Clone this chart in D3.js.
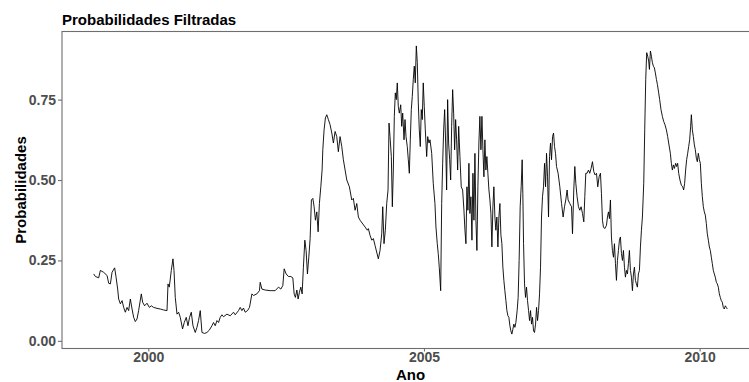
<!DOCTYPE html>
<html>
<head>
<meta charset="utf-8">
<script src="https://cdn.jsdelivr.net/npm/d3@7"></script>
<style>
  body { margin: 0; background: #fff; }
  text { font-family: "Liberation Sans", Arial, sans-serif; }
</style>
</head>
<body>
<svg id="chart" width="749" height="382"></svg>
<script>
// Filtered regime probabilities, decimal year vs probability
const years = [
  1999.009, 1999.040, 1999.100, 1999.130, 1999.190, 1999.252, 1999.281, 1999.312, 1999.342, 1999.389,
  1999.415, 1999.444, 1999.462, 1999.493, 1999.524, 1999.553, 1999.583, 1999.614, 1999.643, 1999.674,
  1999.705, 1999.734, 1999.764, 1999.795, 1999.824, 1999.873, 1999.897, 1999.933, 1999.976, 2000.018,
  2000.054, 2000.096, 2000.158, 2000.217, 2000.277, 2000.339, 2000.357, 2000.380, 2000.417, 2000.447,
  2000.466, 2000.489, 2000.520, 2000.549, 2000.580, 2000.621, 2000.652, 2000.688, 2000.719, 2000.748,
  2000.779, 2000.810, 2000.851, 2000.882, 2000.911, 2000.942, 2000.973, 2001.020, 2001.063, 2001.105,
  2001.154, 2001.183, 2001.214, 2001.245, 2001.274, 2001.304, 2001.335, 2001.364, 2001.426, 2001.486,
  2001.545, 2001.576, 2001.636, 2001.667, 2001.697, 2001.726, 2001.757, 2001.799, 2001.835, 2001.879,
  2001.908, 2001.969, 2002.016, 2002.029, 2002.060, 2002.120, 2002.210, 2002.301, 2002.361, 2002.404,
  2002.440, 2002.464, 2002.500, 2002.542, 2002.585, 2002.621, 2002.645, 2002.668, 2002.694, 2002.717,
  2002.741, 2002.766, 2002.790, 2002.813, 2002.839, 2002.862, 2002.886, 2002.911, 2002.935, 2002.958,
  2002.984, 2003.007, 2003.031, 2003.056, 2003.080, 2003.103, 2003.129, 2003.152, 2003.165, 2003.188,
  2003.212, 2003.237, 2003.266, 2003.297, 2003.328, 2003.357, 2003.388, 2003.418, 2003.447, 2003.478,
  2003.509, 2003.538, 2003.600, 2003.647, 2003.690, 2003.719, 2003.750, 2003.781, 2003.810, 2003.841,
  2003.931, 2003.973, 2003.991, 2004.022, 2004.053, 2004.082, 2004.112, 2004.172, 2004.203, 2004.234,
  2004.252, 2004.275, 2004.299, 2004.324, 2004.348, 2004.366, 2004.384, 2004.408, 2004.426, 2004.444,
  2004.462, 2004.480, 2004.498, 2004.516, 2004.534, 2004.553, 2004.578, 2004.596, 2004.614, 2004.638,
  2004.656, 2004.674, 2004.697, 2004.716, 2004.734, 2004.752, 2004.770, 2004.788, 2004.806, 2004.824,
  2004.842, 2004.861, 2004.879, 2004.897, 2004.915, 2004.933, 2004.951, 2004.969, 2004.987, 2005.005,
  2005.024, 2005.049, 2005.067, 2005.091, 2005.109, 2005.140, 2005.168, 2005.199, 2005.217, 2005.241,
  2005.259, 2005.277, 2005.303, 2005.321, 2005.339, 2005.357, 2005.375, 2005.393, 2005.411, 2005.429,
  2005.447, 2005.466, 2005.484, 2005.502, 2005.520, 2005.538, 2005.556, 2005.574, 2005.592, 2005.611,
  2005.629, 2005.652, 2005.676, 2005.701, 2005.725, 2005.743, 2005.761, 2005.779, 2005.797, 2005.815,
  2005.833, 2005.851, 2005.870, 2005.888, 2005.906, 2005.924, 2005.942, 2005.960, 2005.978, 2005.996,
  2006.014, 2006.033, 2006.051, 2006.069, 2006.087, 2006.105, 2006.123, 2006.141, 2006.159, 2006.178,
  2006.196, 2006.214, 2006.232, 2006.250, 2006.268, 2006.286, 2006.304, 2006.322, 2006.341, 2006.359,
  2006.377, 2006.395, 2006.413, 2006.431, 2006.449, 2006.467, 2006.486, 2006.504, 2006.522, 2006.540,
  2006.558, 2006.576, 2006.594, 2006.612, 2006.630, 2006.649, 2006.667, 2006.690, 2006.708, 2006.726,
  2006.745, 2006.763, 2006.781, 2006.793, 2006.806, 2006.824, 2006.842, 2006.860, 2006.878, 2006.897,
  2006.915, 2006.933, 2006.951, 2006.969, 2006.987, 2007.005, 2007.024, 2007.042, 2007.060, 2007.078,
  2007.096, 2007.114, 2007.132, 2007.150, 2007.168, 2007.187, 2007.205, 2007.223, 2007.241, 2007.259,
  2007.277, 2007.295, 2007.313, 2007.332, 2007.350, 2007.368, 2007.386, 2007.404, 2007.433, 2007.464,
  2007.495, 2007.524, 2007.549, 2007.572, 2007.596, 2007.614, 2007.645, 2007.676, 2007.694, 2007.717,
  2007.736, 2007.754, 2007.777, 2007.802, 2007.826, 2007.850, 2007.875, 2007.899, 2007.917, 2007.935,
  2007.958, 2007.984, 2008.007, 2008.031, 2008.056, 2008.080, 2008.103, 2008.129, 2008.152, 2008.176,
  2008.201, 2008.219, 2008.237, 2008.255, 2008.279, 2008.310, 2008.328, 2008.346, 2008.364, 2008.382,
  2008.400, 2008.418, 2008.437, 2008.455, 2008.473, 2008.491, 2008.509, 2008.527, 2008.545, 2008.563,
  2008.582, 2008.600, 2008.618, 2008.636, 2008.654, 2008.672, 2008.690, 2008.708, 2008.726, 2008.745,
  2008.763, 2008.781, 2008.799, 2008.817, 2008.835, 2008.853, 2008.871, 2008.889, 2008.908, 2008.926,
  2008.944, 2008.962, 2008.986, 2009.004, 2009.022, 2009.040, 2009.058, 2009.076, 2009.089, 2009.107,
  2009.125, 2009.143, 2009.161, 2009.179, 2009.197, 2009.216, 2009.234, 2009.257, 2009.275, 2009.299,
  2009.324, 2009.348, 2009.371, 2009.397, 2009.420, 2009.444, 2009.469, 2009.487, 2009.505, 2009.524,
  2009.542, 2009.565, 2009.583, 2009.601, 2009.620, 2009.643, 2009.668, 2009.692, 2009.710, 2009.728,
  2009.746, 2009.764, 2009.783, 2009.801, 2009.819, 2009.837, 2009.850, 2009.868, 2009.886, 2009.904,
  2009.922, 2009.940, 2009.958, 2009.976, 2009.995, 2010.013, 2010.031, 2010.049, 2010.067, 2010.085,
  2010.103, 2010.121, 2010.139, 2010.158, 2010.176, 2010.194, 2010.212, 2010.230, 2010.248, 2010.266,
  2010.284, 2010.303, 2010.321, 2010.339, 2010.357, 2010.375, 2010.393, 2010.411, 2010.429, 2010.447,
  2010.466, 2010.484, 2010.502
];

const probs = [
  0.208, 0.200, 0.196, 0.219, 0.213, 0.203, 0.179, 0.177, 0.213, 0.227,
  0.198, 0.161, 0.130, 0.115, 0.125, 0.104, 0.089, 0.104, 0.094, 0.130,
  0.099, 0.073, 0.060, 0.068, 0.094, 0.146, 0.120, 0.109, 0.117, 0.104,
  0.109, 0.104, 0.101, 0.099, 0.096, 0.094, 0.177, 0.167, 0.219, 0.255,
  0.219, 0.135, 0.083, 0.089, 0.073, 0.037, 0.057, 0.073, 0.047, 0.073,
  0.089, 0.047, 0.026, 0.042, 0.063, 0.094, 0.026, 0.023, 0.026, 0.033,
  0.047, 0.057, 0.047, 0.063, 0.057, 0.073, 0.081, 0.075, 0.083, 0.078,
  0.089, 0.081, 0.094, 0.104, 0.094, 0.102, 0.089, 0.094, 0.104, 0.146,
  0.141, 0.146, 0.156, 0.182, 0.161, 0.158, 0.156, 0.156, 0.167, 0.161,
  0.172, 0.224, 0.208, 0.200, 0.200, 0.196, 0.146, 0.135, 0.158, 0.130,
  0.151, 0.167, 0.146, 0.229, 0.313, 0.281, 0.208, 0.260, 0.318, 0.438,
  0.443, 0.417, 0.375, 0.401, 0.339, 0.427, 0.479, 0.531, 0.594, 0.656,
  0.693, 0.703, 0.688, 0.672, 0.646, 0.615, 0.651, 0.635, 0.588, 0.635,
  0.604, 0.563, 0.500, 0.479, 0.438, 0.443, 0.406, 0.427, 0.385, 0.375,
  0.354, 0.344, 0.349, 0.328, 0.313, 0.318, 0.297, 0.255, 0.281, 0.333,
  0.417, 0.302, 0.344, 0.427, 0.469, 0.677, 0.635, 0.573, 0.417, 0.531,
  0.698, 0.771, 0.750, 0.802, 0.729, 0.708, 0.734, 0.667, 0.708, 0.625,
  0.688, 0.635, 0.604, 0.563, 0.521, 0.625, 0.719, 0.760, 0.813, 0.854,
  0.802, 0.917, 0.865, 0.740, 0.656, 0.604, 0.719, 0.688, 0.802, 0.729,
  0.656, 0.573, 0.635, 0.615, 0.625, 0.583, 0.490, 0.427, 0.354, 0.302,
  0.271, 0.229, 0.156, 0.427, 0.552, 0.656, 0.719, 0.615, 0.469, 0.750,
  0.615, 0.563, 0.500, 0.667, 0.781, 0.708, 0.594, 0.688, 0.625, 0.531,
  0.667, 0.573, 0.479, 0.469, 0.406, 0.344, 0.302, 0.479, 0.406, 0.552,
  0.396, 0.448, 0.313, 0.521, 0.375, 0.583, 0.375, 0.281, 0.479, 0.615,
  0.698, 0.594, 0.698, 0.594, 0.510, 0.625, 0.531, 0.573, 0.521, 0.469,
  0.438, 0.396, 0.292, 0.417, 0.479, 0.385, 0.344, 0.385, 0.292, 0.385,
  0.427, 0.330, 0.302, 0.229, 0.188, 0.156, 0.125, 0.094, 0.078, 0.073,
  0.047, 0.031, 0.021, 0.036, 0.052, 0.042, 0.057, 0.094, 0.135, 0.250,
  0.417, 0.479, 0.563, 0.458, 0.302, 0.177, 0.135, 0.167, 0.125, 0.094,
  0.063, 0.094, 0.052, 0.073, 0.031, 0.026, 0.052, 0.104, 0.063, 0.094,
  0.146, 0.229, 0.385, 0.448, 0.479, 0.552, 0.479, 0.583, 0.510, 0.385,
  0.573, 0.615, 0.563, 0.635, 0.646, 0.604, 0.583, 0.542, 0.521, 0.479,
  0.427, 0.385, 0.417, 0.438, 0.469, 0.438, 0.427, 0.417, 0.333, 0.469,
  0.542, 0.490, 0.448, 0.417, 0.406, 0.417, 0.396, 0.370, 0.448, 0.521,
  0.521, 0.531, 0.521, 0.536, 0.557, 0.526, 0.516, 0.521, 0.479, 0.510,
  0.521, 0.458, 0.375, 0.354, 0.349, 0.359, 0.385, 0.401, 0.380, 0.438,
  0.323, 0.281, 0.260, 0.302, 0.240, 0.188, 0.250, 0.281, 0.313, 0.323,
  0.271, 0.250, 0.281, 0.229, 0.198, 0.219, 0.208, 0.240, 0.281, 0.219,
  0.198, 0.156, 0.208, 0.229, 0.188, 0.177, 0.167, 0.208, 0.219, 0.292,
  0.344, 0.385, 0.490, 0.656, 0.813, 0.896, 0.885, 0.870, 0.844, 0.901,
  0.885, 0.865, 0.854, 0.849, 0.833, 0.813, 0.797, 0.771, 0.750, 0.719,
  0.698, 0.682, 0.672, 0.656, 0.635, 0.609, 0.583, 0.552, 0.531, 0.547,
  0.536, 0.552, 0.542, 0.552, 0.521, 0.500, 0.484, 0.479, 0.469, 0.490,
  0.531, 0.563, 0.583, 0.604, 0.625, 0.667, 0.703, 0.656, 0.635, 0.609,
  0.594, 0.568, 0.557, 0.583, 0.563, 0.552, 0.490, 0.448, 0.417, 0.401,
  0.391, 0.365, 0.333, 0.313, 0.292, 0.281, 0.260, 0.240, 0.219, 0.208,
  0.198, 0.182, 0.177, 0.167, 0.146, 0.135, 0.125, 0.120, 0.104, 0.099,
  0.109, 0.104, 0.099
];

const yTicks = [0, 0.25, 0.5, 0.75];
const xTicks = [2000, 2005, 2010];
const titleText = "Probabilidades Filtradas";
const xTitle = "Ano";
const yTitle = "Probabilidades";

const series = years.map((t, i) => ({ t, p: probs[i] }));

const svg = d3.select("#chart");
const panel = { left: 62, right: 759, top: 31.5, bottom: 348.5 };
const frameColor = "#6e6e6e";
const tickColor = "#4d4d4d";

// 5% expansion on both scales
const xExt = d3.extent(years), xPad = (xExt[1] - xExt[0]) * 0.05;
const yExt = d3.extent(probs), yPad = (yExt[1] - yExt[0]) * 0.05;

const x = d3.scaleLinear()
  .domain([xExt[0] - xPad, xExt[1] + xPad])
  .range([panel.left, panel.right]);
const y = d3.scaleLinear()
  .domain([yExt[0] - yPad, yExt[1] + yPad])
  .range([panel.bottom, panel.top]);

// data line
svg.append("path")
  .datum(series)
  .attr("fill", "none")
  .attr("stroke", "#000")
  .attr("stroke-width", 0.9)
  .attr("stroke-linejoin", "round")
  .attr("d", d3.line().x(d => x(d.t)).y(d => y(d.p)));

// panel frame
svg.append("rect")
  .attr("x", panel.left).attr("y", panel.top)
  .attr("width", panel.right - panel.left)
  .attr("height", panel.bottom - panel.top)
  .attr("fill", "none")
  .attr("stroke", frameColor)
  .attr("stroke-width", 1.1);

// axes
const yAxis = svg.append("g")
  .attr("transform", `translate(${panel.left},0)`)
  .call(d3.axisLeft(y).tickValues(yTicks).tickFormat(d3.format(".2f")).tickSize(4).tickSizeOuter(0).tickPadding(2));
const xAxis = svg.append("g")
  .attr("transform", `translate(0,${panel.bottom})`)
  .call(d3.axisBottom(x).tickValues(xTicks).tickFormat(d3.format("d")).tickSize(3).tickSizeOuter(0).tickPadding(1));

[yAxis, xAxis].forEach(g => {
  g.select(".domain").remove();
  g.selectAll(".tick line").attr("stroke", frameColor).attr("stroke-width", 1.1);
  g.selectAll(".tick text")
    .attr("fill", tickColor)
    .style("font-size", "14px")
    .style("font-weight", "bold")
    .style("font-family", "'Liberation Sans', Arial, sans-serif");
});

// titles
svg.append("text")
  .attr("x", panel.left).attr("y", 25)
  .style("font-size", "15px").style("font-weight", "bold")
  .attr("fill", "#000")
  .text(titleText);

svg.append("text")
  .attr("x", (panel.left + panel.right) / 2).attr("y", 380)
  .attr("text-anchor", "middle")
  .style("font-size", "15px").style("font-weight", "bold")
  .attr("fill", "#000")
  .text(xTitle);

svg.append("text")
  .attr("transform", `translate(26,${(panel.top + panel.bottom) / 2}) rotate(-90)`)
  .attr("text-anchor", "middle")
  .style("font-size", "15px").style("font-weight", "bold")
  .attr("fill", "#000")
  .text(yTitle);
</script>
</body>
</html>
